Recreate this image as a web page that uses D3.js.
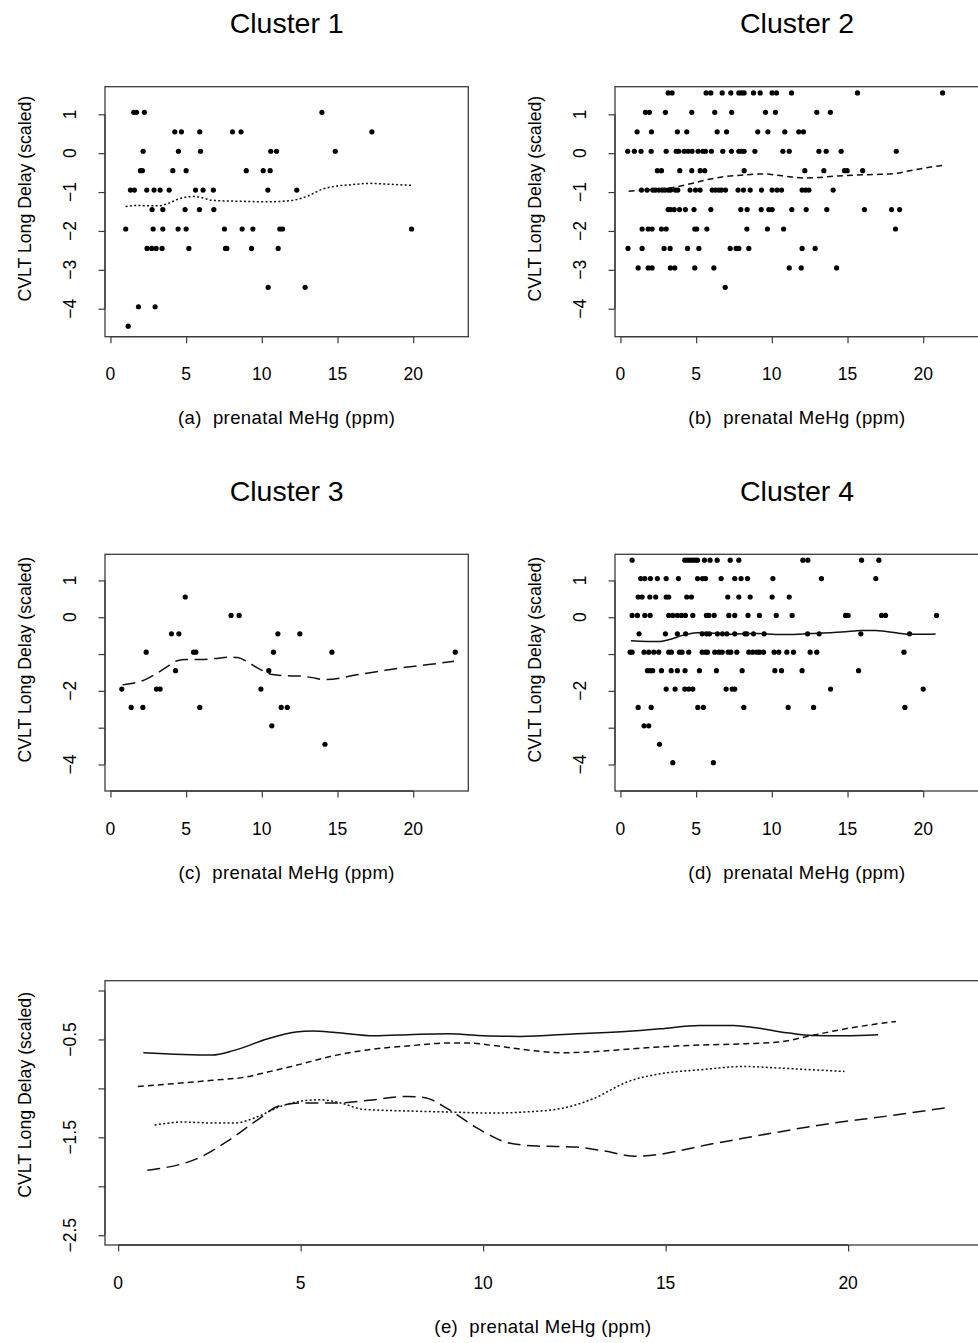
<!DOCTYPE html>
<html><head><meta charset="utf-8">
<script src="https://cdn.jsdelivr.net/npm/d3@7/dist/d3.min.js"></script>
<style>
body{margin:0;background:#fff}
svg{display:block}
text{font-family:"Liberation Sans",Arial,Helvetica,sans-serif;fill:#000}
</style>
</head><body>
<svg id="chart" width="978" height="1343"></svg>
<script>
// ---------- data ----------
const clusterNames = ["Cluster 1", "Cluster 2", "Cluster 3", "Cluster 4"];
const panelLetters = ["a", "b", "c", "d", "e"];
const xTicks = [0, 5, 10, 15, 20];
const yTicksScatter = [1, 0, -1, -2, -3, -4];
const yLabelsTopRow = [1, 0, -1, -2, -3, -4];
const yLabelsMidRow = [1, 0, -2, -4];
const yTicksCombined = [0, -0.5, -1, -1.5, -2, -2.5];
const yLabelsCombined = [-0.5, -1.5, -2.5];
const xAxisLabel = "prenatal MeHg (ppm)";
const yAxisLabel = "CVLT Long Delay (scaled)";

// scatter points: [CVLT level, [MeHg values at that level]]
const cluster1Rows = [
  [1.05, [1.54, 1.72, 2.24, 13.97]],
  [0.55, [4.25, 4.69, 5.90, 8.06, 8.63, 17.27]],
  [0.05, [2.16, 4.49, 5.95, 10.59, 10.97, 14.85]],
  [-0.45, [1.98, 2.11, 4.12, 5.0, 8.97, 10.09, 10.55]],
  [-0.95, [1.32, 1.58, 2.40, 2.88, 3.28, 3.88, 5.62, 6.12, 6.80, 10.40, 12.31]],
  [-1.45, [2.75, 3.46, 4.93, 5.88, 6.83]],
  [-1.95, [1.01, 2.82, 3.46, 4.47, 5.0, 7.53, 8.70, 9.41, 11.19, 11.37, 19.89]],
  [-2.45, [2.42, 2.73, 3.02, 3.41, 5.18, 7.60, 7.69, 9.32, 11.08]],
  [-3.45, [10.42, 12.86]],
  [-3.95, [1.85, 2.95]],
  [-4.45, [1.17]]
];
const cluster2Rows = [
  [1.55, [3.15, 3.41, 5.66, 5.97, 6.72, 7.29, 7.82, 8.00, 8.17, 8.79, 9.23, 10.02, 10.31, 11.30, 15.66, 21.28]],
  [1.05, [1.65, 1.91, 2.97, 4.71, 6.23, 7.35, 9.58, 10.24, 12.97, 13.87]],
  [0.55, [1.10, 2.05, 3.76, 4.38, 6.39, 7.01, 9.07, 9.74, 10.86, 11.78, 12.09]],
  [0.05, [0.48, 0.92, 1.36, 2.03, 3.02, 3.68, 3.85, 4.21, 4.47, 4.73, 5.13, 5.44, 5.62, 6.01, 6.76, 7.33, 7.82, 8.00, 8.17, 8.88, 10.73, 11.15, 13.11, 13.59, 14.58, 18.22]],
  [-0.45, [2.44, 2.71, 3.92, 4.71, 5.27, 5.57, 8.17, 12.18, 13.44, 14.80, 14.98, 16.0]],
  [-0.95, [1.39, 1.76, 2.14, 2.31, 2.53, 2.75, 2.93, 3.15, 3.32, 3.63, 3.79, 4.60, 4.96, 5.26, 6.06, 6.28, 6.50, 6.67, 6.94, 7.77, 8.13, 8.57, 9.32, 10.02, 10.35, 10.64, 12.0, 12.23, 12.45, 14.05]],
  [-1.45, [3.15, 3.32, 3.55, 3.90, 4.29, 4.86, 5.97, 7.95, 8.37, 9.30, 9.80, 10.02, 11.32, 12.27, 13.63, 16.12, 17.91, 18.44]],
  [-1.95, [1.43, 1.83, 2.09, 2.71, 3.02, 4.91, 5.04, 5.71, 8.35, 9.71, 10.78, 18.17]],
  [-2.45, [0.50, 1.43, 2.88, 3.28, 4.43, 5.18, 7.25, 7.64, 7.82, 8.48, 12.0, 12.86]],
  [-2.95, [1.17, 1.83, 2.09, 3.30, 3.59, 4.91, 6.17, 11.15, 11.94, 14.28]],
  [-3.45, [6.92]]
];
const cluster3Rows = [
  [0.55, [4.94]],
  [0.05, [7.97, 8.50]],
  [-0.45, [4.03, 4.52, 11.06, 12.51]],
  [-0.95, [2.36, 5.49, 5.64, 10.77, 14.63, 22.78]],
  [-1.45, [4.30, 10.46]],
  [-1.95, [0.75, 3.04, 3.28, 9.94]],
  [-2.45, [1.37, 2.14, 5.90, 11.28, 11.68]],
  [-2.95, [10.66]],
  [-3.45, [14.17]]
];
const cluster4Rows = [
  [1.55, [0.77, 4.25, 4.43, 4.60, 4.78, 4.95, 5.09, 5.55, 5.92, 6.39, 7.25, 7.82, 12.05, 12.38, 15.93, 17.07]],
  [1.05, [1.34, 1.61, 1.98, 2.44, 3.02, 3.83, 5.09, 5.42, 5.62, 6.65, 7.55, 7.97, 8.39, 10.07, 13.28, 16.87]],
  [0.55, [1.17, 1.43, 1.94, 2.33, 3.02, 3.19, 4.38, 4.69, 7.09, 7.82, 8.57, 10.02, 11.15]],
  [0.05, [0.77, 1.12, 1.61, 1.96, 3.19, 3.46, 3.76, 4.03, 4.29, 4.78, 5.68, 5.84, 6.19, 7.16, 7.55, 8.43, 9.18, 10.29, 11.34, 14.87, 15.04, 17.25, 17.51, 20.88]],
  [-0.45, [1.23, 2.97, 3.76, 4.31, 5.40, 5.68, 5.88, 6.41, 6.74, 7.03, 7.55, 8.22, 8.35, 8.79, 9.49, 12.36, 13.13, 15.88, 19.10]],
  [-0.95, [0.64, 0.77, 1.56, 1.87, 2.20, 2.53, 3.19, 3.37, 3.90, 4.07, 4.51, 5.40, 5.62, 5.75, 6.23, 6.50, 6.72, 7.11, 7.29, 7.69, 8.48, 8.74, 9.01, 9.18, 9.45, 10.15, 10.46, 10.99, 11.43, 12.53, 12.97, 18.73]],
  [-1.45, [1.78, 1.96, 2.13, 2.71, 3.35, 3.76, 4.27, 5.22, 6.34, 8.04, 10.20, 10.64, 12.0, 15.73]],
  [-1.95, [3.02, 3.61, 4.25, 4.51, 4.78, 6.98, 7.38, 7.55, 13.88, 20.0]],
  [-2.45, [1.17, 2.03, 5.11, 5.48, 8.15, 11.08, 12.76, 18.79]],
  [-2.95, [1.56, 1.87]],
  [-3.45, [2.58]],
  [-3.95, [3.46, 6.14]]
];

// smoothed curves: [MeHg, CVLT]
const curve1 = [[1.00,-1.374],[1.80,-1.344],[2.57,-1.354],[3.18,-1.354],[3.80,-1.293],[4.41,-1.19],[5.02,-1.129],[5.56,-1.116],[6.10,-1.150],[6.72,-1.214],[7.94,-1.231],[9.02,-1.241],[10.25,-1.252],[11.17,-1.241],[12.25,-1.197],[13.02,-1.105],[13.94,-0.935],[14.86,-0.85],[15.94,-0.81],[17.17,-0.776],[17.93,-0.789],[19.01,-0.81],[19.90,-0.827]];
const curve2 = [[0.54,-0.980],[2.57,-0.918],[3.49,-0.884],[4.10,-0.833],[4.87,-0.765],[5.95,-0.663],[6.87,-0.605],[8.10,-0.561],[9.02,-0.537],[9.63,-0.537],[10.25,-0.561],[11.17,-0.605],[12.09,-0.636],[12.86,-0.629],[14.09,-0.595],[15.63,-0.561],[17.17,-0.544],[18.09,-0.527],[19.01,-0.459],[19.93,-0.391],[21.31,-0.316]];
const curve3 = [[0.80,-1.837],[2.26,-1.701],[3.03,-1.531],[3.80,-1.327],[4.41,-1.18],[5.02,-1.15],[5.95,-1.15],[6.87,-1.122],[7.94,-1.082],[8.41,-1.095],[9.02,-1.207],[9.79,-1.395],[10.71,-1.558],[11.48,-1.589],[12.55,-1.599],[13.32,-1.64],[14.17,-1.694],[16.40,-1.558],[17.93,-1.456],[19.47,-1.361],[21.01,-1.286],[22.70,-1.197]];
const curve4 = [[0.69,-0.636],[2.57,-0.66],[3.18,-0.612],[4.10,-0.493],[4.87,-0.425],[5.33,-0.415],[5.95,-0.429],[7.02,-0.463],[8.10,-0.449],[9.02,-0.442],[10.25,-0.466],[11.02,-0.469],[12.55,-0.442],[14.09,-0.415],[14.86,-0.391],[15.94,-0.357],[16.86,-0.357],[17.47,-0.381],[18.39,-0.435],[19.01,-0.459],[19.93,-0.463],[20.82,-0.452]];

const clusterRows = [cluster1Rows, cluster2Rows, cluster3Rows, cluster4Rows];
const clusterCurves = [curve1, curve2, curve3, curve4];

// ---------- styles / layout ----------
const dashes = ["2,2.3", "6,4", "13,6.5", null];
const xDomain = [-0.36, 23.64];
const yDomainScatter = [-4.72, 1.71];
const yDomainCombined = [-2.6, 0.1];
const panels = [
  {x0: 105, x1: 468.3, y0: 86.7, y1: 336.7, labels: yLabelsTopRow},
  {x0: 615, x1: 979, y0: 86.7, y1: 336.7, labels: yLabelsTopRow},
  {x0: 105, x1: 468.3, y0: 554.3, y1: 791, labels: yLabelsMidRow},
  {x0: 615, x1: 979, y0: 554.3, y1: 791, labels: yLabelsMidRow}
];
const axisColor = "#3c3c3c";
const lineColor = "#111";
const fmt = v => String(v).replace("-", "\u2212");

const svg = d3.select("#chart");

function frame(g, p, x, y, yTicks, yLabels, titleShift) {
  g.append("rect").attr("x", p.x0).attr("y", p.y0)
    .attr("width", p.x1 - p.x0).attr("height", p.y1 - p.y0)
    .attr("fill", "none").attr("stroke", axisColor).attr("stroke-width", 1.3);
  // x axis
  const xa = g.append("g").attr("transform", `translate(0,${p.y1})`)
    .call(d3.axisBottom(x).tickValues(xTicks).tickSize(6.5).tickFormat(""));
  xa.select(".domain").attr("d", `M${x(xTicks[0])},0H${x(xTicks[xTicks.length-1])}`)
    .attr("stroke", axisColor).attr("stroke-width", 1.3);
  xa.selectAll(".tick line").attr("stroke", axisColor).attr("stroke-width", 1.2);
  g.selectAll(".xlab").data(xTicks).enter().append("text")
    .attr("x", d => x(d)).attr("y", p.y1 + 43.5)
    .attr("text-anchor", "middle").attr("font-size", 17.5).text(d => fmt(d));
  // y axis
  const ya = g.append("g").attr("transform", `translate(${p.x0},0)`)
    .call(d3.axisLeft(y).tickValues(yTicks).tickSize(6.5).tickFormat(""));
  ya.select(".domain").attr("d", `M0,${y(yTicks[0])}V${y(yTicks[yTicks.length-1])}`)
    .attr("stroke", axisColor).attr("stroke-width", 1.3);
  ya.selectAll(".tick line").attr("stroke", axisColor).attr("stroke-width", 1.2);
  g.selectAll(".ylab").data(yLabels).enter().append("text")
    .attr("transform", d => `translate(${p.x0 - 29},${y(d)}) rotate(-90)`)
    .attr("text-anchor", "middle").attr("font-size", 17.5).text(d => fmt(d));
  // y axis title
  g.append("text")
    .attr("transform", `translate(${p.x0 - 74},${(p.y0 + p.y1) / 2 - titleShift}) rotate(-90)`)
    .attr("text-anchor", "middle").attr("font-size", 17.7).text(yAxisLabel);
}

function xTitle(g, cx, yb, letter) {
  g.append("text").attr("x", cx).attr("y", yb)
    .attr("text-anchor", "middle").attr("font-size", 18.5).attr("letter-spacing", 0.4)
    .text(`(${letter})\u00a0\u00a0${xAxisLabel}`);
}

panels.forEach((p, i) => {
  const g = svg.append("g");
  const x = d3.scaleLinear().domain(xDomain).range([p.x0, p.x0 + (468.3 - 105)]);
  const y = d3.scaleLinear().domain(yDomainScatter).range([p.y1, p.y0]);
  frame(g, p, x, y, yTicksScatter, p.labels, 13);
  const cx = (p.x0 + p.x1) / 2;
  g.append("text").attr("x", cx).attr("y", p.y0 - 53.5)
    .attr("text-anchor", "middle").attr("font-size", 28.5).text(clusterNames[i]);
  xTitle(g, cx, p.y1 + 87.5, panelLetters[i]);
  const pts = clusterRows[i].flatMap(([lv, xs]) => xs.map(v => [v, lv]));
  g.selectAll(".pt").data(pts).enter().append("circle")
    .attr("cx", d => x(d[0])).attr("cy", d => y(d[1])).attr("r", 2.6).attr("fill", "#000");
  const line = d3.line().x(d => x(d[0])).y(d => y(d[1])).curve(d3.curveMonotoneX);
  g.append("path").datum(clusterCurves[i]).attr("d", line)
    .attr("fill", "none").attr("stroke", lineColor).attr("stroke-width", 1.5)
    .attr("stroke-dasharray", dashes[i]);
});

// combined panel (e)
{
  const p = {x0: 105, x1: 981, y0: 980.7, y1: 1245};
  const g = svg.append("g");
  const x = d3.scaleLinear().domain(xDomain).range([p.x0, p.x1]);
  const y = d3.scaleLinear().domain(yDomainCombined).range([p.y1, p.y0]);
  frame(g, p, x, y, yTicksCombined, yLabelsCombined, 18);
  xTitle(g, (p.x0 + p.x1) / 2, p.y1 + 88, panelLetters[4]);
  const line = d3.line().x(d => x(d[0])).y(d => y(d[1])).curve(d3.curveMonotoneX);
  clusterCurves.forEach((c, i) => {
    g.append("path").datum(c).attr("d", line)
      .attr("fill", "none").attr("stroke", lineColor).attr("stroke-width", 1.5)
      .attr("stroke-dasharray", dashes[i]);
  });
}
</script>
</body></html>
